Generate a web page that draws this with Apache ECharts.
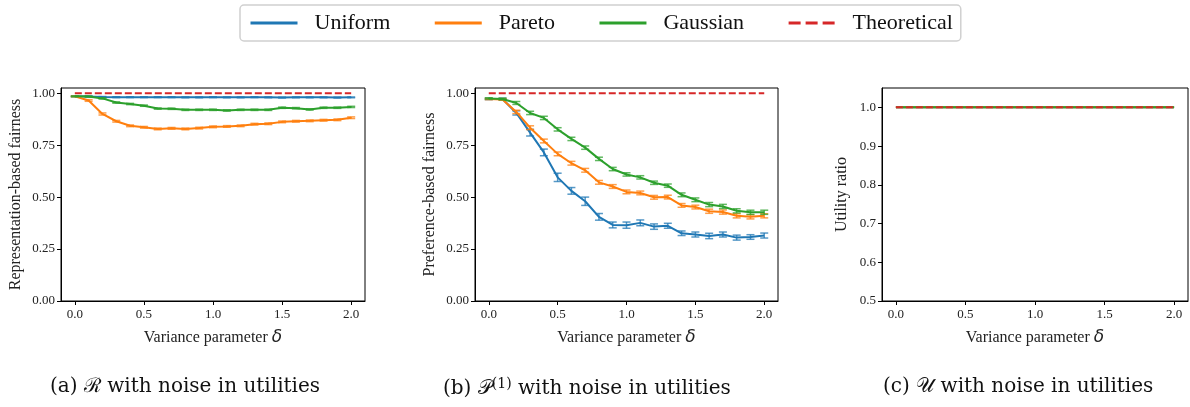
<!DOCTYPE html>
<html>
<head>
<meta charset="utf-8">
<script src="https://cdn.jsdelivr.net/npm/echarts@6/dist/echarts.min.js"></script>
<style>html,body{margin:0;padding:0;background:#fff;}#c{width:1190px;height:407px;}</style>
</head>
<body>
<div id="c"></div>
<script>
// ---- data ----
const deltas = [0.0,0.1,0.2,0.3,0.4,0.5,0.6,0.7,0.8,0.9,1.0,1.1,1.2,1.3,1.4,1.5,1.6,1.7,1.8,1.9,2.0];
const seriesNames = ['Uniform','Pareto','Gaussian','Theoretical'];

// (a) representation-based fairness
const aUniform  = [0.985,0.984,0.982,0.981,0.981,0.981,0.981,0.981,0.980,0.980,0.981,0.980,0.980,0.981,0.980,0.979,0.980,0.980,0.980,0.979,0.980];
const aPareto   = [0.985,0.965,0.900,0.865,0.843,0.836,0.828,0.831,0.828,0.832,0.838,0.840,0.843,0.851,0.853,0.862,0.865,0.867,0.870,0.872,0.882];
const aGaussian = [0.985,0.984,0.975,0.955,0.948,0.940,0.926,0.925,0.920,0.920,0.920,0.917,0.920,0.920,0.920,0.930,0.928,0.922,0.930,0.930,0.934];
const aUniformErr  = [0.002,0.002,0.002,0.002,0.002,0.002,0.002,0.002,0.002,0.002,0.002,0.002,0.002,0.002,0.002,0.002,0.002,0.002,0.002,0.002,0.002];
const aParetoErr   = [0.002,0.004,0.005,0.004,0.004,0.004,0.004,0.004,0.004,0.004,0.004,0.004,0.004,0.004,0.004,0.004,0.004,0.004,0.004,0.004,0.004];
const aGaussianErr = [0.002,0.002,0.003,0.003,0.003,0.003,0.003,0.003,0.003,0.003,0.003,0.003,0.003,0.003,0.003,0.003,0.003,0.003,0.003,0.003,0.003];

// (b) preference-based fairness
const bUniform  = [0.972,0.972,0.905,0.810,0.715,0.595,0.530,0.480,0.405,0.366,0.365,0.376,0.358,0.362,0.326,0.320,0.313,0.320,0.305,0.308,0.315];
const bPareto   = [0.972,0.970,0.910,0.834,0.770,0.708,0.663,0.629,0.571,0.551,0.525,0.520,0.499,0.500,0.460,0.452,0.432,0.428,0.410,0.405,0.410];
const bGaussian = [0.975,0.972,0.953,0.905,0.881,0.826,0.780,0.738,0.684,0.635,0.609,0.595,0.569,0.555,0.511,0.487,0.464,0.455,0.434,0.427,0.427];
const bUniformErr  = [0.003,0.004,0.010,0.016,0.016,0.020,0.016,0.020,0.016,0.014,0.015,0.014,0.013,0.012,0.011,0.012,0.013,0.012,0.012,0.011,0.012];
const bParetoErr   = [0.003,0.004,0.008,0.009,0.009,0.009,0.009,0.009,0.009,0.009,0.009,0.009,0.009,0.009,0.009,0.009,0.010,0.010,0.010,0.010,0.010];
const bGaussianErr = [0.003,0.004,0.007,0.008,0.008,0.008,0.008,0.008,0.008,0.008,0.008,0.008,0.008,0.008,0.009,0.009,0.010,0.010,0.010,0.010,0.010];

// (c) utility ratio
const cUniform  = [1,1,1,1,1,1,1,1,1,1,1,1,1,1,1,1,1,1,1,1,1];
const cPareto   = [1,1,1,1,1,1,1,1,1,1,1,1,1,1,1,1,1,1,1,1,1];
const cGaussian = [1,1,1,1,1,1,1,1,1,1,1,1,1,1,1,1,1,1,1,1,1];
const theoretical = [1,1,1,1,1,1,1,1,1,1,1,1,1,1,1,1,1,1,1,1,1];

const xTicks = [0, 0.5, 1.0, 1.5, 2.0];
const yTicksAB = [0, 0.25, 0.5, 0.75, 1.0];
const yTicksC = [0.5, 0.6, 0.7, 0.8, 0.9, 1.0];

const captions = ['(a) {s|\u211B} with noise in utilities', '(b) {s|\uD835\uDCAB}{sup|(1)} with noise in utilities', '(c) {s|\uD835\uDCB0} with noise in utilities'];
const yNames = ['Representation-based fairness', 'Preference-based fairness', 'Utility ratio'];

// ---- style ----
const colors = {Uniform:'#1f77b4', Pareto:'#ff7f0e', Gaussian:'#2ca02c', Theoretical:'#d62728'};
const serif = "'Liberation Serif','Times New Roman',serif";
const capFont = "'DejaVu Serif',serif";

const grids = [
  {left: 61, top: 88, width: 304, height: 213},
  {left: 475, top: 88, width: 303, height: 213},
  {left: 882, top: 88, width: 306, height: 213}
];
const nameGaps = [37, 37, 32];

function pairs(ys){ return deltas.map((x,i)=>[x, ys[i]]); }
function errData(ys, es){ return deltas.map((x,i)=>[x, ys[i]-es[i], ys[i]+es[i]]); }

const xAxes = grids.map((g,i)=>({
  type:'value', gridIndex:i, min:-0.1, max:2.1,
  splitLine:{show:false},
  axisLine:{show:true, onZero:false, lineStyle:{color:'#000', width:1}},
  axisTick:{show:true, length:4, lineStyle:{color:'#000'}, customValues: xTicks},
  axisLabel:{customValues: xTicks, formatter:v=>v.toFixed(1), fontFamily:serif, fontSize:13, color:'#222', margin:7},
  name:'Variance parameter {d|\u03B4}', nameLocation:'middle', nameGap:28,
  nameTextStyle:{fontFamily:serif, fontSize:16, color:'#222', rich:{d:{fontFamily:"'DejaVu Sans'", fontStyle:'italic', fontSize:17, color:'#222'}}}
}));
const yAxes = grids.map((g,i)=>{
  const isC = i===2;
  const ticks = isC ? yTicksC : yTicksAB;
  return {
    type:'value', gridIndex:i, min: isC?0.5:0, max: isC?1.05:1.025,
    splitLine:{show:false},
    axisLine:{show:true, onZero:false, lineStyle:{color:'#000', width:1}},
    axisTick:{show:true, length:4, lineStyle:{color:'#000'}, customValues: ticks},
    axisLabel:{customValues: ticks, formatter:v=> isC ? v.toFixed(1) : v.toFixed(2), fontFamily:serif, fontSize:13, color:'#222', margin:6},
    name: yNames[i], nameLocation:'middle', nameGap: nameGaps[i],
    nameTextStyle:{fontFamily:serif, fontSize:16, color:'#222'}
  };
});

function lineSeries(name, data, gi, z){
  const dashed = name==='Theoretical';
  return {
    type:'line', name, xAxisIndex:gi, yAxisIndex:gi, data:pairs(data),
    symbol:'none', z: z, silent:true, animation:false,
    color: colors[name],
    itemStyle:{color: colors[name]},
    lineStyle:{color:colors[name], width: 2, type: dashed?[7,3]:'solid'}
  };
}
function errSeries(name, ys, es, gi, z){
  return {
    type:'custom', name, xAxisIndex:gi, yAxisIndex:gi, data:errData(ys,es), z:z, silent:true, animation:false,
    color: colors[name], itemStyle:{color: colors[name]},
    renderItem:function(params, api){
      const x = api.value(0);
      const p1 = api.coord([x, api.value(1)]);
      const p2 = api.coord([x, api.value(2)]);
      const w = 4;
      const st = {stroke: colors[name], lineWidth: 1.5, opacity:0.75};
      return {type:'group', children:[
        {type:'line', shape:{x1:p1[0], y1:p1[1], x2:p2[0], y2:p2[1]}, style:st},
        {type:'line', shape:{x1:p1[0]-w, y1:p1[1], x2:p1[0]+w, y2:p1[1]}, style:st},
        {type:'line', shape:{x1:p2[0]-w, y1:p2[1], x2:p2[0]+w, y2:p2[1]}, style:st}
      ]};
    }
  };
}

// line series first so the legend takes its style from them
const series = [
  lineSeries('Uniform', aUniform, 0, 3),
  lineSeries('Pareto', aPareto, 0, 5),
  lineSeries('Gaussian', aGaussian, 0, 7),
  lineSeries('Theoretical', theoretical, 0, 8),
  errSeries('Uniform', aUniform, aUniformErr, 0, 2),
  errSeries('Pareto', aPareto, aParetoErr, 0, 4),
  errSeries('Gaussian', aGaussian, aGaussianErr, 0, 6),

  lineSeries('Uniform', bUniform, 1, 3),
  lineSeries('Pareto', bPareto, 1, 5),
  lineSeries('Gaussian', bGaussian, 1, 7),
  lineSeries('Theoretical', theoretical, 1, 8),
  errSeries('Uniform', bUniform, bUniformErr, 1, 2),
  errSeries('Pareto', bPareto, bParetoErr, 1, 4),
  errSeries('Gaussian', bGaussian, bGaussianErr, 1, 6),

  lineSeries('Uniform', cUniform, 2, 3),
  lineSeries('Pareto', cPareto, 2, 5),
  lineSeries('Gaussian', cGaussian, 2, 7),
  lineSeries('Theoretical', theoretical, 2, 8)
];

const captionLeft = [50, 443, 883];
const graphic = captions.map((t,i)=>({
  type:'text', left: captionLeft[i], top: 377, silent:true,
  style:{
    text:t, fill:'#111', font: "20px " + capFont,
    rich:{
      s:{fontFamily:capFont, fontSize:20, fill:'#111'},
      sup:{fontFamily:capFont, fontSize:14, verticalAlign:'top', padding:[0,0,9,0], fill:'#111'}
    }
  }
}));

const chart = echarts.init(document.getElementById('c'), null, {renderer:'canvas'});
chart.setOption({
  animation:false,
  backgroundColor:'#fff',
  legend:{
    data: seriesNames.map(n=> n==='Theoretical' ? {name:n, lineStyle:{type:[12,5], width:3}} : {name:n}),
    left:240, top:5,
    itemWidth:47, itemHeight:14, itemGap:43,
    padding:[7,8,7,9],
    borderColor:'#d0d0d0', borderWidth:1.5, borderRadius:4,
    itemStyle:{opacity:0},
    lineStyle:{width:3},
    textStyle:{fontFamily:serif, fontSize:22, color:'#111', padding:[0,0,0,12]},
    selectedMode:false
  },
  grid: grids.map(g=>Object.assign({show:true, borderColor:'#000', borderWidth:1, backgroundColor:'transparent'}, g)),
  xAxis: xAxes,
  yAxis: yAxes,
  series: series,
  graphic: graphic
});
</script>
</body>
</html>
